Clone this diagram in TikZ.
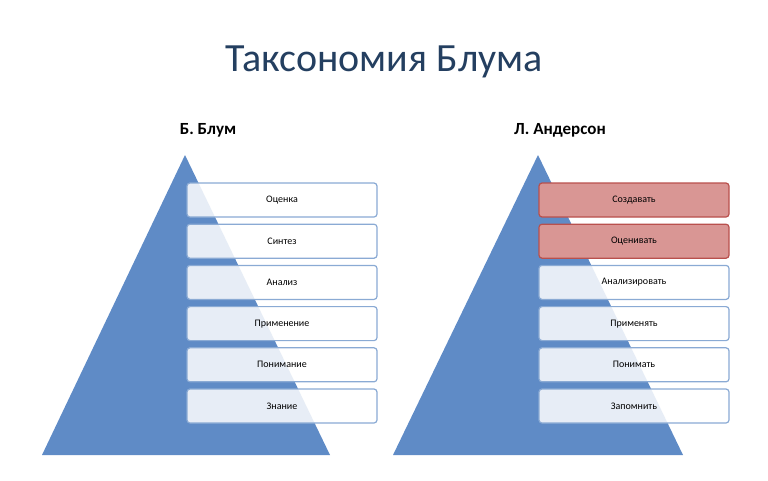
\documentclass[tikz,border=0pt]{standalone}
\usepackage{fontspec}
\setmainfont{Carlito}
\usetikzlibrary{positioning}
\definecolor{titleblue}{HTML}{243F60}
\definecolor{pyrblue}{HTML}{5F8BC6}
\definecolor{boxline}{HTML}{8AAAD4}
\definecolor{pinkfill}{HTML}{D99694}
\definecolor{pinkline}{HTML}{B9504D}

\begin{document}
\begin{tikzpicture}[x=1pt,y=-1pt,node distance=6pt,
  level/.style={draw=boxline,line width=1.2pt,rounded corners=3pt,fill=white,fill opacity=0.85,text opacity=1,
    minimum width=190pt,minimum height=34pt,font=\fontsize{10}{12}\selectfont},
  hot/.style={level,fill=pinkfill,fill opacity=1,draw=pinkline}]
   \useasboundingbox (0,0) rectangle (768,480);
   \node[text=titleblue,font=\fontsize{40}{46}\selectfont] (title) at (384,62) {Таксономия Блума};
   \node[font=\bfseries\fontsize{17}{20}\selectfont] (hb) at (208,130) {Б. Блум};
   \node[font=\bfseries\fontsize{17}{20}\selectfont] (ha) at (560,130) {Л. Андерсон};
   
   \fill[pyrblue] (185,155) -- (330,455) -- (42,455) -- cycle;
   \fill[pyrblue] (538,155) -- (683,455) -- (393,455) -- cycle;
   
   \node[level] (b1) at (282,200) {Оценка};
   \node[level] (b2) [below=of b1] {Синтез};
   \node[level] (b3) [below=of b2] {Анализ};
   \node[level] (b4) [below=of b3] {Применение};
   \node[level] (b5) [below=of b4] {Понимание};
   \node[level] (b6) [below=of b5] {Знание};
   
   \node[hot]   (a1) at (634,200) {Создавать};
   \node[hot]   (a2) [below=of a1] {Оценивать};
   \node[level] (a3) [below=of a2] {Анализировать};
   \node[level] (a4) [below=of a3] {Применять};
   \node[level] (a5) [below=of a4] {Понимать};
   \node[level] (a6) [below=of a5] {Запомнить};
\end{tikzpicture}
\end{document}
